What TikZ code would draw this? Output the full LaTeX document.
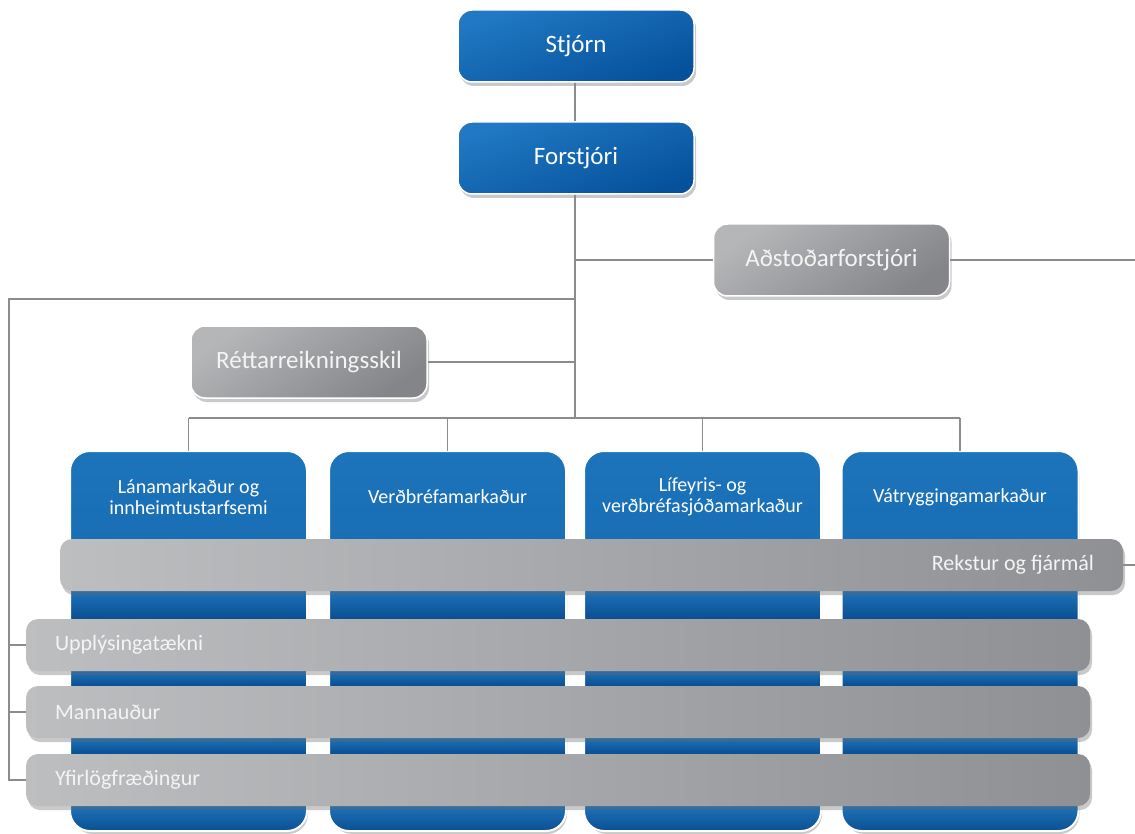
\documentclass[tikz,border=0pt]{standalone}
\usepackage{fontspec}
\setmainfont{Carlito}
\usetikzlibrary{shadows}
\definecolor{blueL}{HTML}{2079C2}
\definecolor{blueD}{HTML}{06519C}
\definecolor{colTop}{HTML}{1C74BB}
\definecolor{segL}{HTML}{1E72BA}
\definecolor{segD}{HTML}{0A4E90}
\definecolor{grayL}{HTML}{B5B6B8}
\definecolor{grayD}{HTML}{848589}
\definecolor{bandL}{HTML}{BDBEC0}
\definecolor{bandD}{HTML}{8F9094}
\definecolor{lineC}{HTML}{8C8C8C}
\definecolor{txtW}{HTML}{F4F4F4}
\tikzset{
  shad/.style={drop shadow={shadow xshift=2pt, shadow yshift=-4pt, opacity=0.35, fill=black!60}},
  topbox/.style={shad, rounded corners=14pt, minimum width=236pt, minimum height=72pt,
    draw=white, line width=1.5pt, top color=blueL, bottom color=blueD, shading angle=20,
    text=white, font=\fontsize{25}{30}\selectfont},
  graybox/.style={shad, rounded corners=14pt, minimum width=236pt, minimum height=72pt,
    draw=white, line width=1.5pt, top color=grayL, bottom color=grayD, shading angle=35,
    text=txtW, font=\fontsize{25}{30}\selectfont},
  colbox/.style={shad, rounded corners=20pt, minimum width=235pt, minimum height=378pt,
    fill=colTop, draw=white, line width=2pt},
  coltext/.style={text=white, align=center, font=\fontsize{20}{21}\selectfont},
  band/.style={shad, rounded corners=12pt, minimum height=52pt, inner xsep=29pt,
    left color=bandL, middle color=bandL!96!bandD, right color=bandD,
    text=txtW, font=\fontsize{22}{24}\selectfont},
  conn/.style={draw=lineC, line width=1.4pt},
}
\newcommand{\colsegs}[1]{%
  \begin{scope}
    \clip[rounded corners=20pt] (#1.south west) rectangle (#1.north east);
    \shade[top color=colTop, bottom color=colTop!85!segD] (#1.west |- 0,452) rectangle (#1.east |- 0,539);
    \shade[top color=segL, bottom color=segD] (#1.west |- 0,591) rectangle (#1.east |- 0,619);
    \shade[top color=segL, bottom color=segD] (#1.west |- 0,671) rectangle (#1.east |- 0,686);
    \shade[top color=segL, bottom color=segD] (#1.west |- 0,738) rectangle (#1.east |- 0,754);
    \shade[top color=segL, bottom color=segD] (#1.west |- 0,806) rectangle (#1.east |- 0,832);
  \end{scope}
  \draw[white, line width=2pt, rounded corners=20pt] (#1.south west) rectangle (#1.north east);
}
\begin{document}
\begin{tikzpicture}[x=1pt,y=-1pt]
\useasboundingbox[fill=white] (0,0) rectangle (1135,834);

% coordinates for connectors
\coordinate (hub) at (575,418);
\coordinate (jA) at (575,260);
\coordinate (jL) at (575,299);
\coordinate (jR) at (575,362);
\coordinate (cornerL) at (9,299);
\coordinate (aEnd) at (1135,260);
\coordinate (rEnd) at (1135,565);

% top nodes
\node[topbox] (stj) at (576,46) {Stjórn};
\node[topbox] (frs) at (576,158) {Forstjóri};
\node[graybox] (ads) at (831.5,260) {Aðstoðarforstjóri};
\node[graybox] (rett) at (309,362) {Réttarreikningsskil};

% connectors
\draw[conn] (stj.south -| jA) -- (frs.north -| jA);
\draw[conn] (frs.south -| jA) -- (hub);
\draw[conn] (jA) -- (ads.west);
\draw[conn] (ads.east) -- (aEnd);
\draw[conn] (rett.east) -- (jR);

% columns
\node[colbox] (c1) at (188.5,641) {};
\node[colbox] (c2) at (447.5,641) {};
\node[colbox] (c3) at (702.5,641) {};
\node[colbox] (c4) at (960,641) {};
\colsegs{c1}
\colsegs{c2}
\colsegs{c3}
\colsegs{c4}
\node[coltext] (t1) at (188.5,497) {Lánamarkaður og\\innheimtustarfsemi};
\node[coltext] (t2) at (447.5,497) {Verðbréfamarkaður};
\node[coltext] (t3) at (702.5,497) {Lífeyris- og\\verðbréfasjóðamarkaður};
\node[coltext] (t4) at (960,497) {Vátryggingamarkaður};

\draw[conn] (c1.north |- hub) -- (c4.north |- hub);
\draw[conn] (c1.north |- hub) -- (c1.north);
\draw[conn] (c2.north |- hub) -- (c2.north);
\draw[conn] (c3.north |- hub) -- (c3.north);
\draw[conn] (c4.north |- hub) -- (c4.north);

% bands
\node[band, minimum width=1063pt, text width=1005pt, align=flush right] (b1) at (591.5,565) {Rekstur og fjármál};
\node[band, minimum width=1064pt, text width=1006pt, align=flush left] (b2) at (558,645) {Upplýsingatækni};
\node[band, minimum width=1064pt, text width=1006pt, align=flush left] (b3) at (558,712) {Mannauður};
\node[band, minimum width=1064pt, text width=1006pt, align=flush left] (b4) at (558,780) {Yfirlögfræðingur};

\draw[conn] (b1.east) -- (rEnd);
\draw[conn] (jL) -- (cornerL) |- (b4.west);
\draw[conn] (cornerL |- b2.west) -- (b2.west);
\draw[conn] (cornerL |- b3.west) -- (b3.west);
\end{tikzpicture}
\end{document}
